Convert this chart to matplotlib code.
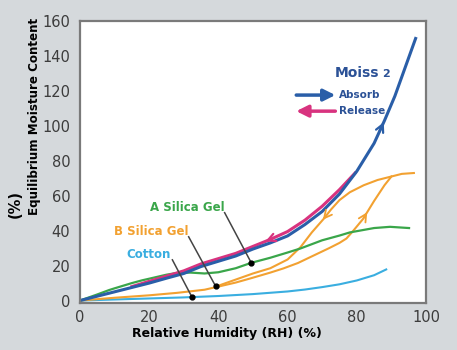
import matplotlib
matplotlib.use("Agg")
import matplotlib.pyplot as plt
import numpy as np

# Moiss2 absorb (blue)
moiss_abs_x = [0, 5, 10, 15, 20, 25, 30, 35, 40, 45, 50, 55, 60, 65, 70, 75, 80, 85, 88, 91, 95, 97]
moiss_abs_y = [0, 2.5, 5, 7.5, 10, 12.8, 15.5, 19.5, 22.5, 25.5, 29.5, 33, 37, 43.5, 51, 61, 74, 90, 103, 117, 139, 150]

# Moiss2 release (magenta)
moiss_rel_x = [79.5, 75, 70, 65, 60, 55, 50, 45, 40, 35, 30, 25, 20, 15]
moiss_rel_y = [73, 63.5, 54, 46, 39.5, 35, 31, 27, 24, 21, 17, 14, 11, 8]

# A silica gel (green)
a_gel_x = [0, 5, 8.4, 10, 15, 18, 20, 25, 28, 32, 36, 40, 45, 49.5, 55, 60, 63.7, 70, 75, 78, 85, 89.6, 95.1]
a_gel_y = [0, 3.5, 6, 7, 10, 11.6, 12.5, 14.8, 15.8, 16, 15.5, 16.2, 18.5, 21.6, 24.5, 27.5, 29.8, 34.5, 37.2, 39, 41.5, 42.2, 41.5]

# B silica gel absorb / release (orange)
b_abs_x = [0, 10, 20, 28, 36, 40, 45, 49.3, 55, 58.8, 63, 68.5, 72, 75, 77, 79, 81.8, 85, 88, 90]
b_abs_y = [0, 1.6, 3.0, 4.4, 6.2, 8, 10.3, 12.7, 16, 18.4, 21.5, 26.7, 30, 33, 35.5, 40, 46.7, 57, 66, 71]
b_rel_x = [96.5, 93, 90, 86, 82, 78, 75, 72.5, 70.4, 67, 63.7, 60, 55, 50, 45, 40]
b_rel_y = [73, 72.5, 71, 69, 66, 62, 57.5, 52, 46.7, 39, 30.5, 23.5, 18.5, 15.5, 12, 8.5]

# Cotton (light blue)
cotton_x = [0, 10, 20, 30, 40, 50, 60, 65, 70, 75, 80, 85, 88.5]
cotton_y = [0, 0.6, 1.2, 1.8, 2.6, 3.7, 5.2, 6.3, 7.7, 9.3, 11.5, 14.5, 17.8]

x_ticks = [0, 20, 40, 60, 80, 100]
y_ticks = [0, 20, 40, 60, 80, 100, 120, 140, 160]

BLUE = '#2a5ea8'
MAGENTA = '#d8337f'
GREEN = '#3aa64a'
ORANGE = '#f2a131'
CYAN = '#3aaee0'
BG = '#d5d9dc'

W, H = 457, 350
fig = plt.figure(figsize=(W / 100, H / 100), dpi=100, facecolor=BG)
ax = fig.add_axes([80 / W, 1 - 303 / H, 346 / W, 282 / H])
ax.set_facecolor('white')

ax.plot(cotton_x, cotton_y, color=CYAN, lw=1.5)
ax.plot(b_abs_x, b_abs_y, color=ORANGE, lw=1.5)
ax.plot(b_rel_x, b_rel_y, color=ORANGE, lw=1.5)
ax.plot(a_gel_x, a_gel_y, color=GREEN, lw=1.6)
ax.plot(moiss_rel_x, moiss_rel_y, color=MAGENTA, lw=2.2)
ax.plot(moiss_abs_x, moiss_abs_y, color=BLUE, lw=2.2)


def curve_arrow(xs, ys, x0, x1, color, lw):
    order = np.argsort(xs)
    xa = np.array(xs)[order]
    ya = np.array(ys)[order]
    p0 = (x0, np.interp(x0, xa, ya))
    p1 = (x1, np.interp(x1, xa, ya))
    ax.annotate('', xy=p1, xytext=p0,
                arrowprops=dict(arrowstyle='->,head_length=0.55,head_width=0.28',
                                color=color, lw=lw, shrinkA=0, shrinkB=0))


curve_arrow(moiss_abs_x, moiss_abs_y, 86.5, 87.8, BLUE, 1.6)
curve_arrow(moiss_rel_x, moiss_rel_y, 55.5, 53.6, MAGENTA, 1.6)
curve_arrow(b_abs_x, b_abs_y, 82.0, 83.0, ORANGE, 1.3)
curve_arrow(b_rel_x, b_rel_y, 71.0, 70.2, ORANGE, 1.3)

# labels with pointer lines
labels = [('A Silica Gel', GREEN, 31, 53.5, 41.8, 50.3, 49.5, 21.6),
          ('B Silica Gel', ORANGE, 20.5, 39.6, 31.4, 36.5, 39.2, 8.2),
          ('Cotton', CYAN, 19.9, 26.2, 26.7, 23.3, 32.3, 2.2)]
for txt, col, tx, ty, lx0, ly0, lx1, ly1 in labels:
    ax.text(tx, ty, txt, color=col, fontsize=8.5, fontweight='bold',
            ha='center', va='center')
    ax.plot([lx0, lx1], [ly0, ly1], color='#444444', lw=1.1)
    ax.plot(lx1, ly1, 'o', color='black', ms=3.5)

# legend
ax.text(86.6, 130, 'Moiss', color='#2b5196', fontsize=10, fontweight='bold',
        ha='right', va='center')
ax.text(87.2, 129.6, '2', color='#2b5196', fontsize=8, fontweight='bold',
        ha='left', va='center')
ax.annotate('', xy=(73.8, 117.6), xytext=(62.5, 117.6),
            arrowprops=dict(arrowstyle='-|>,head_length=0.7,head_width=0.35',
                            color=BLUE, lw=2.5, shrinkA=0, shrinkB=0))
ax.annotate('', xy=(62.5, 108.4), xytext=(73.8, 108.4),
            arrowprops=dict(arrowstyle='-|>,head_length=0.7,head_width=0.35',
                            color=MAGENTA, lw=2.5, shrinkA=0, shrinkB=0))
ax.text(74.9, 117.8, 'Absorb', color='#2b5196', fontsize=7.5, fontweight='bold',
        ha='left', va='center')
ax.text(74.9, 108.6, 'Release', color='#2b5196', fontsize=7.5, fontweight='bold',
        ha='left', va='center')

ax.set_xlim(0, 100)
ax.set_ylim(-1.4, 158.5)
ax.set_xticks(x_ticks)
ax.set_yticks(y_ticks)
ax.tick_params(length=0, labelsize=10.5, colors='#3c3c3c', pad=7)
ax.tick_params(axis='x', pad=5)
for s in ax.spines.values():
    s.set_color('#7a7a7a')
    s.set_linewidth(1.6)

fig.text(227 / W, 1 - 334 / H, 'Relative Humidity (RH) (%)', fontsize=9,
         fontweight='bold', ha='center', va='center')
fig.text(35 / W, 1 - 215 / H, 'Equilibrium Moisture Content', fontsize=8.6,
         fontweight='bold', rotation=90, ha='center', va='bottom')
fig.text(15 / W, 1 - 218 / H, '(%)', fontsize=10.5,
         fontweight='bold', rotation=90, ha='center', va='bottom')

fig.savefig('out.png', dpi=100, facecolor=BG)
